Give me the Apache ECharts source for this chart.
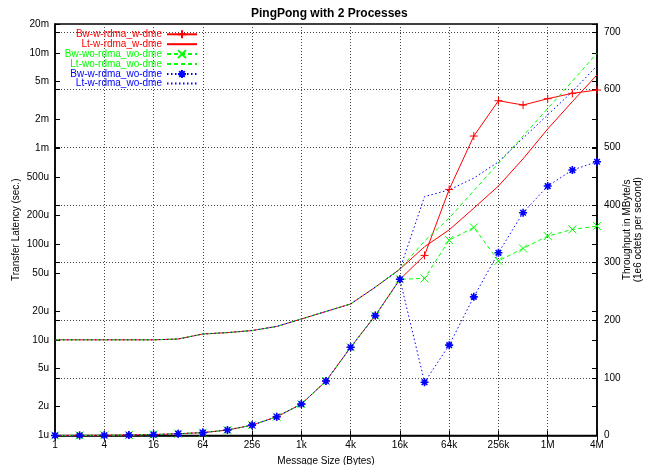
<!DOCTYPE html>
<html><head><meta charset="utf-8">
<script src="https://cdn.jsdelivr.net/npm/echarts@6/dist/echarts.min.js"></script>
<style>html,body{margin:0;padding:0;background:#fff}#c{width:646px;height:465px}</style>
</head><body><div id="c"></div>
<script>
// Message sizes in bytes (x axis, log2)
const messageSizes = [1,2,4,8,16,32,64,128,256,512,1024,2048,4096,8192,16384,32768,65536,131072,262144,524288,1048576,2097152,4194304];
const xTickValues = [1,4,16,64,256,1024,4096,16384,65536,262144,1048576,4194304];
const xTickLabels = ['1','4','16','64','256','1k','4k','16k','64k','256k','1M','4M'];
// Latency in microseconds (left axis, log10)
const latencyTickValues = [1,2,5,10,20,50,100,200,500,1000,2000,5000,10000,20000];
const latencyTickLabels = ['1u','2u','5u','10u','20u','50u','100u','200u','500u','1m','2m','5m','10m','20m'];
// Throughput in MByte/s (right axis)
const throughputTickValues = [0,100,200,300,400,500,600,700];

const bwWRdmaWDme   = [0.1,0.2,0.4,0.8,1.6,3.1,5,9.5,18,32.5,54.5,94.5,153,208,271,312.5,427,519.6,580.9,573.4,584.4,593.7,599.5];
const ltWRdmaWDme   = [10,10,10,10,10,10.2,11.5,11.9,12.5,13.8,16.5,19.8,23.7,35.5,54.8,94,141,238,405,780,1600,3090,5880];
const bwWoRdmaWoDme = [0.1,0.2,0.4,0.8,1.6,3.1,5,9.5,18,32.5,54.5,94.5,153,208,271,272.6,339,361,303,324.6,346,357.6,363.4];
const ltWoRdmaWoDme = [10,10,10,10,10,10.2,11.5,11.9,12.5,13.8,16.5,19.8,23.7,35.5,54.8,108,187,362,700,1350,2620,5050,9900];
const bwWRdmaWoDme  = [0.1,0.2,0.4,0.8,1.6,3.1,5,9.5,18,32.5,54.5,94.5,153,208,271,92.5,156.8,240.6,317,386.5,432.8,460.6,475];
const ltWRdmaWoDme  = [10,10,10,10,10,10.2,11.5,11.9,12.5,13.8,16.5,19.8,23.7,35.5,54.8,314,369,490,725,1282,2244,3940,7300];

const seriesNames = ['Bw-w-rdma_w-dme','Lt-w-rdma_w-dme','Bw-wo-rdma_wo-dme','Lt-wo-rdma_wo-dme','Bw-w-rdma_wo-dme','Lt-w-rdma_wo-dme'];

const FONT = '"Liberation Sans", Arial, Helvetica, sans-serif';
const RED = '#ff0000', GREEN = '#00ff00', BLUE = '#0000ff';
const PLUS = 'path://M0,5L10,5M5,0L5,10';
const CROSS = 'path://M0,0L10,10M0,10L10,0';
const STAR = 'path://M0,5L10,5M5,0L5,10M1.5,1.5L8.5,8.5M1.5,8.5L8.5,1.5';

function pairs(vals){ return messageSizes.map((s,i)=>[s, vals[i]]); }
function labelFrom(values, labels, base){
  return function(v){
    const i = values.findIndex(t => Math.abs(Math.log(t)/Math.log(base) - Math.log(v)/Math.log(base)) < 1e-6);
    return i >= 0 ? labels[i] : '';
  };
}

const gridLine = {show:true, lineStyle:{color:'#444', type:[1,2], width:1}};
const labelStyle = {fontSize:10, color:'#000', fontFamily:FONT};

function mkSeries(name, vals, color, dash, yIdx, symbol, bw){
  return {
    name, type:'line', xAxisIndex:0, yAxisIndex:yIdx, data:pairs(vals),
    symbol: symbol || 'none', symbolSize: 8, showSymbol: !!symbol, showAllSymbol:true,
    lineStyle:{color, width:1, type:dash},
    itemStyle:{color, borderColor:color, borderWidth: bw || 1},
    emphasis:{disabled:true}
  };
}

const legendRows = [34.3, 44.2, 54.1, 64, 73.9, 83.6];
const legendColors = [RED, RED, GREEN, GREEN, BLUE, BLUE];
const legends = seriesNames.map((n,i)=>{
  const item = {name:n, textStyle:{color:legendColors[i]}};
  if (i % 2 === 1) item.itemStyle = {opacity:0};
  return {
    data:[item],
    right: 448, top: legendRows[i]-5, itemWidth:30, itemHeight:10, padding:0, itemGap:0,
    align:'right', selectedMode:false,
    textStyle:{fontSize:10, fontFamily:FONT}
  };
});

const option = {
  animation:false,
  backgroundColor:'#fff',
  textStyle:{fontFamily:FONT},
  title:{text:'PingPong with 2 Processes', left:251, top:8, padding:0,
    textStyle:{fontSize:12, fontWeight:'bold', color:'#000', fontFamily:FONT}},
  legend: legends,
  grid:{left:55, right:49, top:24, bottom:29.5, show:true, borderColor:'#000', borderWidth:1.5,
        containLabel:false, outerBoundsMode:'none'},
  xAxis:[
    {type:'log', logBase:2, min:1, max:4194304, position:'bottom',
     name:'Message Size (Bytes)', nameLocation:'middle', nameGap:21, nameMoveOverlap:false, nameTextStyle:labelStyle,
     axisLine:{show:true, lineStyle:{color:'#000', width:1.5}},
     axisTick:{show:true, inside:true, length:5, customValues:xTickValues, lineStyle:{color:'#000'}},
     axisLabel:Object.assign({customValues:xTickValues, margin:5, formatter:labelFrom(xTickValues, xTickLabels, 2)}, labelStyle),
     splitLine:gridLine},
    {type:'log', logBase:2, min:1, max:4194304, position:'top',
     axisLine:{show:false}, axisLabel:{show:false},
     axisTick:{show:true, inside:true, length:5, customValues:xTickValues, lineStyle:{color:'#000'}},
     splitLine:{show:false}}
  ],
  yAxis:[
    {type:'log', logBase:10, min:1, max:20000, position:'left',
     name:'Transfer Latency (sec.)', nameLocation:'middle', nameGap:34, nameMoveOverlap:false, nameTextStyle:labelStyle,
     axisLine:{show:true, lineStyle:{color:'#000', width:1.5}},
     axisTick:{show:true, inside:true, length:5, customValues:latencyTickValues, lineStyle:{color:'#000'}},
     axisLabel:Object.assign({customValues:latencyTickValues, margin:6, formatter:labelFrom(latencyTickValues, latencyTickLabels, 10)}, labelStyle),
     splitLine:{show:false}},
    {type:'value', min:0, max:714, interval:100, position:'right',
     name:'Throughput in MByte/s\n(1e6 octets per second)', nameLocation:'middle', nameGap:25, nameRotate:90, nameMoveOverlap:false,
     nameTextStyle:Object.assign({lineHeight:11}, labelStyle),
     axisLine:{show:true, lineStyle:{color:'#000', width:1.5}},
     axisTick:{show:true, inside:true, length:5, customValues:throughputTickValues, lineStyle:{color:'#000'}},
     axisLabel:Object.assign({customValues:throughputTickValues, margin:7}, labelStyle),
     splitLine:gridLine},
    {type:'log', logBase:10, min:1, max:20000, position:'right',
     axisLine:{show:false}, axisLabel:{show:false},
     axisTick:{show:true, inside:true, length:5, customValues:latencyTickValues, lineStyle:{color:'#000'}},
     splitLine:{show:false}},
    {type:'value', min:0, max:714, position:'left',
     axisLine:{show:false}, axisLabel:{show:false},
     axisTick:{show:true, inside:true, length:5, customValues:throughputTickValues, lineStyle:{color:'#000'}},
     splitLine:{show:false}}
  ],
  series:[
    mkSeries(seriesNames[0], bwWRdmaWDme, RED, 'solid', 1, PLUS, 1),
    mkSeries(seriesNames[1], ltWRdmaWDme, RED, 'solid', 0, null),
    mkSeries(seriesNames[2], bwWoRdmaWoDme, GREEN, [4,3], 1, CROSS, 1),
    mkSeries(seriesNames[3], ltWoRdmaWoDme, GREEN, [4,3], 0, null),
    mkSeries(seriesNames[4], bwWRdmaWoDme, BLUE, [1.5,2.5], 1, STAR, 1.6),
    mkSeries(seriesNames[5], ltWRdmaWoDme, BLUE, [1.5,2.5], 0, null)
  ]
};
const chart = echarts.init(document.getElementById('c'), null, {renderer:'canvas'});
chart.setOption(option);
</script>
</body></html>
